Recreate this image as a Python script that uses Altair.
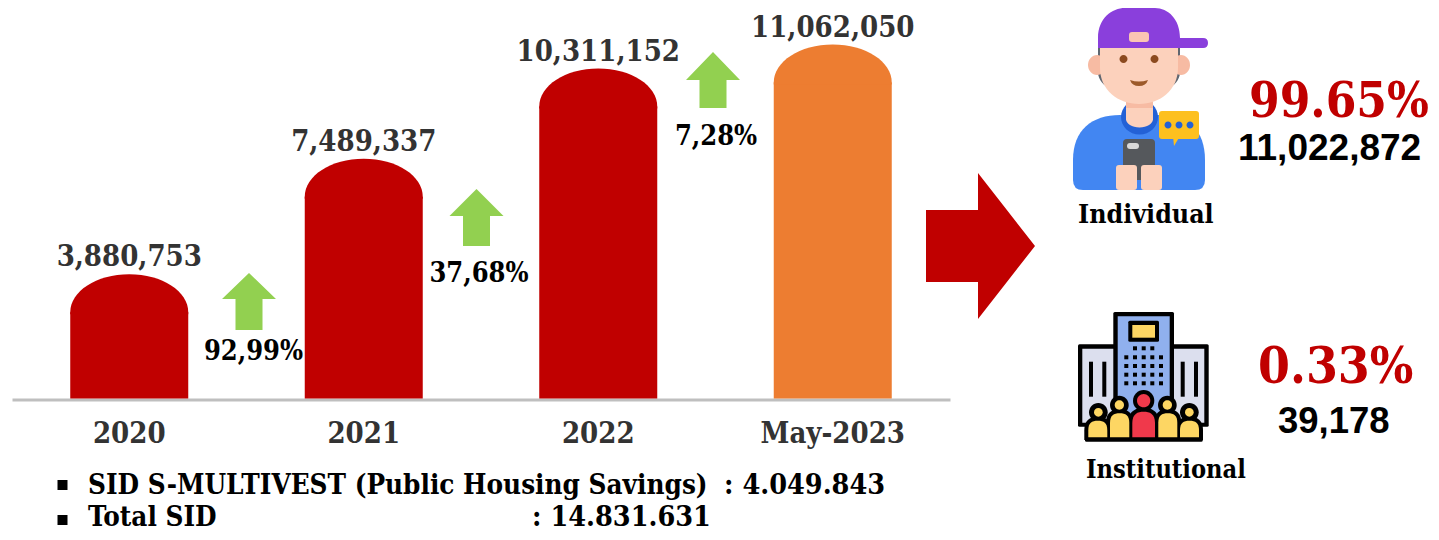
import altair as alt
import pandas as pd

# ---- values ----
periods = ["2020", "2021", "2022", "May-2023"]
sid_values = [3880753, 7489337, 10311152, 11062050]
bar_colors = ["#c00000", "#c00000", "#c00000", "#ed7d31"]
growth_labels = ["92,99%", "37,68%", "7,28%"]
split_names = ["Individual", "Institutional"]
split_shares = ["99.65%", "0.33%"]
split_counts = ["11,022,872", "39,178"]
note_labels = ["SID S-MULTIVEST (Public Housing Savings)", "Total SID"]
note_values = [": 4.049.843", ": 14.831.631"]

W, H = 1423, 524
BASE_Y = 390.5          # chart-space pixel of the bar baseline
PX_PER_UNIT = 32e-6     # pixels per investor
CAP_H = 38              # height of the bar's elliptical top
SERIF = "DejaVu Serif Condensed"
LABEL_FONT = "DejaVu Serif Condensed"
SANS = "Liberation Sans"

# ---- bars, top caps, value labels and the category axis ----
bars_df = pd.DataFrame({
    "period": periods,
    "value": sid_values,
    "color": bar_colors,
    "label": [f"{v:,}" for v in sid_values],
})
bars_df["shoulder"] = bars_df["value"] - CAP_H / PX_PER_UNIT

x_scale = alt.Scale(domain=periods, range=[4, 942], paddingInner=0.4968, paddingOuter=0.2484)
x_enc = alt.X(
    "period:N",
    sort=periods,
    scale=x_scale,
    axis=alt.Axis(
        title=None, labelAngle=0, ticks=False, offset=BASE_Y - H + 1,
        domainColor="#bfbfbf", domainWidth=3, labelPadding=43,
        labelFont=LABEL_FONT, labelFontWeight="bold", labelFontSize=29,
        labelColor="#333333", labelBaseline="alphabetic",
    ),
)
y_scale = alt.Scale(domain=[-(H - BASE_Y) / PX_PER_UNIT, BASE_Y / PX_PER_UNIT], nice=False, zero=False)
fill_enc = alt.Fill("color:N", scale=None)

bars = alt.Chart(bars_df).mark_bar().encode(
    x=x_enc,
    y=alt.Y("shoulder:Q", scale=y_scale, axis=None, stack=None),
    fill=fill_enc,
)
caps = alt.Chart(bars_df).mark_point(
    shape="M-59,40 L-59,38 C-59,17 -33,0 0,0 C33,0 59,17 59,38 L59,40 Z",
    filled=True, size=4, opacity=1, strokeWidth=0,
).encode(
    x=x_enc,
    y=alt.Y("value:Q", scale=y_scale, axis=None),
    fill=fill_enc,
)
value_labels = alt.Chart(bars_df).mark_text(
    font=LABEL_FONT, fontWeight="bold", fontSize=29, color="#333333",
    baseline="alphabetic", align="center", dy=-8,
).encode(
    x=x_enc,
    y=alt.Y("value:Q", scale=y_scale, axis=None),
    text="label:N",
)


# ---- drawing helpers: paths are in reference-image pixels ----
def num(v):
    return f"{v:.1f}"


def poly(*pts):
    return "M" + " L".join(f"{num(a)},{num(b)}" for a, b in pts) + " Z"


def rect(x0, y0, x1, y1):
    return poly((x0, y0), (x1, y0), (x1, y1), (x0, y1))


def rrect(x0, y0, x1, y1, r):
    return (
        f"M{num(x0 + r)},{num(y0)} L{num(x1 - r)},{num(y0)} Q{num(x1)},{num(y0)} {num(x1)},{num(y0 + r)} "
        f"L{num(x1)},{num(y1 - r)} Q{num(x1)},{num(y1)} {num(x1 - r)},{num(y1)} "
        f"L{num(x0 + r)},{num(y1)} Q{num(x0)},{num(y1)} {num(x0)},{num(y1 - r)} "
        f"L{num(x0)},{num(y0 + r)} Q{num(x0)},{num(y0)} {num(x0 + r)},{num(y0)} Z"
    )


def ellipse(cx, cy, rx, ry=None):
    ry = rx if ry is None else ry
    k = 0.5523
    return (
        f"M{num(cx - rx)},{num(cy)} "
        f"C{num(cx - rx)},{num(cy - k * ry)} {num(cx - k * rx)},{num(cy - ry)} {num(cx)},{num(cy - ry)} "
        f"C{num(cx + k * rx)},{num(cy - ry)} {num(cx + rx)},{num(cy - k * ry)} {num(cx + rx)},{num(cy)} "
        f"C{num(cx + rx)},{num(cy + k * ry)} {num(cx + k * rx)},{num(cy + ry)} {num(cx)},{num(cy + ry)} "
        f"C{num(cx - k * rx)},{num(cy + ry)} {num(cx - rx)},{num(cy + k * ry)} {num(cx - rx)},{num(cy)} Z"
    )


def dome(x0, x1, top, bottom):
    mid = (x0 + x1) / 2
    rise = top + (x1 - x0) * 0.5
    return (
        f"M{num(x0)},{num(bottom)} L{num(x0)},{num(rise)} "
        f"C{num(x0)},{num(top + 2)} {num(mid - 6)},{num(top)} {num(mid)},{num(top)} "
        f"C{num(mid + 6)},{num(top)} {num(x1)},{num(top + 2)} {num(x1)},{num(rise)} "
        f"L{num(x1)},{num(bottom)} Z"
    )


def up_arrow(cx, top, shoulder, bottom):
    return poly((cx, top), (cx + 27, shoulder), (cx + 13.5, shoulder), (cx + 13.5, bottom),
                (cx - 13.5, bottom), (cx - 13.5, shoulder), (cx - 27, shoulder))


GREEN, RED = "#92d050", "#c00000"
SKIN, SKIN2 = "#fcd1bc", "#f7bba3"
BLUE, BLUE2 = "#4286f2", "#2361d6"
PURPLE = "#8a3fdc"
YELLOW, BLACK = "#fdd663", "#000000"

shapes = [
    # growth arrows and the big arrow
    (up_arrow(249, 273, 299, 330), GREEN),
    (up_arrow(476.5, 189, 216, 246), GREEN),
    (up_arrow(713, 52, 80, 108), GREEN),
    (poly((926, 210), (978, 210), (978, 173), (1035, 246), (978, 319), (978, 282), (926, 282)), RED),
    # bullets
    (rect(57.5, 480, 67.5, 490), BLACK),
    (rect(57.5, 515, 67.5, 525), BLACK),
    # person
    (rect(1098, 45, 1180, 56), "#5f6670"),
    ("M1098,66 L1180,66 L1180,72 C1180,80 1174,86 1168,88 L1110,88 C1104,86 1098,80 1098,72 Z", "#5f6670"),
    (ellipse(1097, 65, 9, 10), SKIN2),
    (ellipse(1181, 65, 9, 10), SKIN2),
    ("M1073,180 L1073,160 C1073,130 1092,115 1120,115 L1160,115 C1188,115 1205,130 1205,160 "
     "L1205,180 Q1205,190 1195,190 L1083,190 Q1073,190 1073,180 Z", BLUE),
    (ellipse(1139.5, 117, 18.5, 17.5), BLUE2),
    (rect(1126, 96, 1153, 120), SKIN),
    (ellipse(1139.5, 119, 13.5, 8.5), SKIN),
    (rect(1126, 100, 1153, 108), SKIN2),
    ("M1100,48 L1178,48 L1178,68 C1178,90 1160,104 1139,104 C1118,104 1100,90 1100,68 Z", SKIN),
    (ellipse(1123.5, 59, 4), "#8b4a1f"),
    (ellipse(1154.5, 59, 4), "#8b4a1f"),
    ("M1130,80 Q1139,83 1148,80 Q1146,86 1139,86 Q1132,86 1130,80 Z", "#9c5a2a"),
    ("M1098,48 L1098,38 C1098,18 1112,8 1125,8 L1155,8 C1168,8 1180,19 1180,38 L1203,38 "
     "Q1208,38 1208,43 Q1208,48 1203,48 Z", PURPLE),
    (rrect(1129, 32, 1149, 42, 3), "#fbc4b4"),
    (rrect(1123, 139, 1155, 180, 4), "#55585c"),
    (rrect(1127, 143, 1139, 149, 3), "#d8d8d8"),
    (rrect(1116, 165, 1137, 190, 3), SKIN),
    (rrect(1141, 165, 1162, 190, 3), SKIN),
    (poly((1165, 136), (1180, 136), (1174, 146), (1173, 136)), "#fdc01f"),
    (rrect(1159, 111, 1199, 139, 3), "#fdc01f"),
    (ellipse(1168, 125, 3.5), BLUE2),
    (ellipse(1179, 125, 3.5), BLUE2),
    (ellipse(1190, 125, 3.5), BLUE2),
]

# institutional building
def bx(v):
    return 1050 + v / 3


def by(v):
    return 300 + v / 3


shapes += [
    (rrect(bx(84), by(133), bx(476), by(380), 1.5), BLACK),
    (rect(bx(97), by(146), bx(463), by(368)), "#dcdfee"),
    (rrect(bx(190), by(36), bx(372), by(360), 1.5), BLACK),
    (rect(bx(203), by(49), bx(359), by(360)), "#90b0ee"),
    (rrect(bx(235), by(62), bx(327), by(125), 1.5), BLACK),
    (rect(bx(247), by(75), bx(315), by(113)), YELLOW),
]
for vx in (117, 157, 392, 432):
    shapes.append((rect(bx(vx), by(185), bx(vx + 12), by(290)), BLACK))
for row, vy in enumerate((139, 166, 192, 218, 244)):
    cols = (249, 275, 301) if row == 0 else (223, 249, 275, 301, 327)
    for vx in cols:
        shapes.append((rect(bx(vx), by(vy), bx(vx + 12), by(vy + 12)), BLACK))
shapes.append((rrect(bx(105), by(390), bx(458), by(425), 1.5), BLACK))
people = [(145, 337, 115, 172, 362, YELLOW, 28, 13),
          (418, 337, 390, 447, 362, YELLOW, 28, 13),
          (208, 315, 180, 238, 340, YELLOW, 28, 14),
          (352, 315, 325, 382, 340, YELLOW, 28, 14),
          (281, 302, 247, 315, 335, "#f0394b", 32, 20)]
for cx, cy, x0, x1, top, col, r_out, r_in in people:
    shapes.append((ellipse(bx(cx), by(cy), r_out / 3), BLACK))
    shapes.append((dome(bx(x0 - 12), bx(x1 + 12), by(top - 12), by(420)), BLACK))
for cx, cy, x0, x1, top, col, r_out, r_in in people:
    shapes.append((ellipse(bx(cx), by(cy), r_in / 3), col))
    shapes.append((dome(bx(x0), bx(x1), by(top), by(412)), col))

shapes_df = pd.DataFrame(shapes, columns=["path", "color"])
shape_layer = alt.Chart(shapes_df).mark_point(filled=True, opacity=1, strokeWidth=0).encode(
    x=alt.value(-8), y=alt.value(-8),
    shape=alt.Shape("path:N", scale=None),
    fill=alt.Fill("color:N", scale=None),
    size=alt.value(4),
)


def text(t, x, y, size, font=SERIF, color="#000000", align="left", weight="bold"):
    return alt.Chart(pd.DataFrame({"t": [t]})).mark_text(
        font=font, fontSize=size, fontWeight=weight, color=color,
        align=align, baseline="alphabetic",
    ).encode(x=alt.value(x - 8), y=alt.value(y - 8), text="t:N")


texts = [
    text(growth_labels[0], 253.5, 360, 27, align="center"),
    text(growth_labels[1], 479, 282, 27, align="center"),
    text(growth_labels[2], 716, 145, 27, align="center"),
    text(note_labels[0], 88, 494, 27.6),
    text(note_values[0], 724, 494, 28.5),
    text(note_labels[1], 88, 526, 27.6),
    text(note_values[1], 532, 526, 28.5),
    text(split_names[0], 1078, 223, 26.5),
    text(split_names[1], 1086, 478, 25.2),
    text(split_shares[0], 1249, 117, 49, color=RED),
    text(split_shares[1], 1258, 383, 51, color=RED),
    text(split_counts[0], 1238, 160, 37, font=SANS),
    text(split_counts[1], 1278, 433, 36.5, font=SANS),
]

chart = alt.layer(bars, caps, value_labels, shape_layer, *texts).properties(
    width=W, height=H, padding=0, autosize=alt.AutoSizeParams(type="none"),
).configure_view(stroke=None)

chart.save("out.html", embed_options={"renderer": "svg", "actions": False})
